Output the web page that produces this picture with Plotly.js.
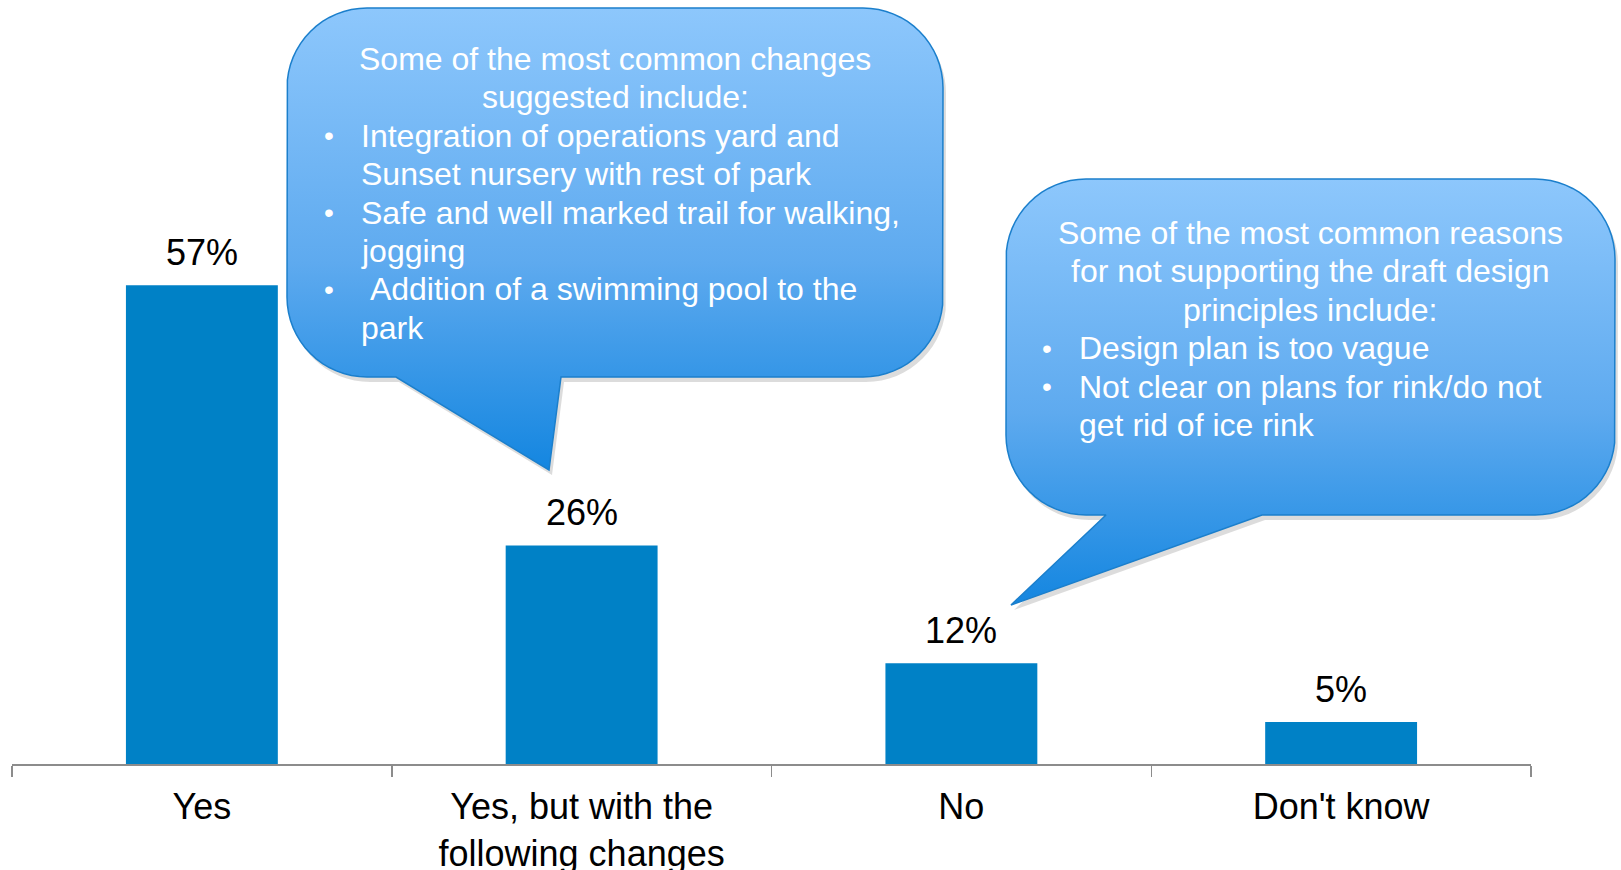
<!DOCTYPE html>
<html>
<head>
<meta charset="utf-8">
<script src="https://cdn.plot.ly/plotly-3.0.1.min.js"></script>
<style>html,body{margin:0;padding:0;background:#fff;}#chart{width:1621px;height:870px;}</style>
</head>
<body>
<div id="chart"></div>
<script>
// ---- data ----
const categories = ['Yes', 'Yes, but with the<br>following changes', 'No', "Don't know"];
const values = [57, 26, 12, 5];
const valueLabels = ['57%', '26%', '12%', '5%'];

const leftCalloutTitle = ['Some of the most common changes', 'suggested include:'];
const leftCalloutBullets = [
  ['Integration of operations yard and', 'Sunset nursery with rest of park'],
  ['Safe and well marked trail for walking,', 'jogging'],
  [' Addition of a swimming pool to the', 'park']
];
const rightCalloutTitle = ['Some of the most common reasons', 'for not supporting the draft design', 'principles include:'];
const rightCalloutBullets = [
  ['Design plan is too vague'],
  ['Not clear on plans for rink/do not', 'get rid of ice rink']
];

// ---- styling / layout helpers ----
const W = 1621, H = 870;
const FONT = 'Liberation Sans, Arial, Helvetica, sans-serif';
const BAR_COLOR = '#0081C6';
const AXIS_GRAY = '#8C8C8C';

function bubblePath(L, T, R, B, r, b1, tipx, tipy, b2) {
  const xs = [], ys = [];
  function arc(cx, cy, a0, a1) {
    const n = 16;
    for (let i = 0; i <= n; i++) {
      const a = a0 + (a1 - a0) * i / n;
      xs.push(cx + r * Math.cos(a));
      ys.push(cy + r * Math.sin(a));
    }
  }
  // screen coords (y down)
  arc(R - r, T + r, -Math.PI / 2, 0);
  arc(R - r, B - r, 0, Math.PI / 2);
  xs.push(b2, tipx, b1); ys.push(B, tipy, B);
  arc(L + r, B - r, Math.PI / 2, Math.PI);
  arc(L + r, T + r, Math.PI, 1.5 * Math.PI);
  xs.push(xs[0]); ys.push(ys[0]);
  return {xs, ys};
}

const bubbles = [
  {L: 287, T: 8, R: 943, B: 377, r: 80, b1: 396, tipx: 549, tipy: 470, b2: 561},
  {L: 1006, T: 179, R: 1615, B: 515, r: 80, b1: 1106, tipx: 1011, tipy: 605, b2: 1262}
];

const traces = [];
traces.push({
  type: 'bar', x: categories, y: values, width: 0.4,
  marker: {color: BAR_COLOR}, xaxis: 'x', yaxis: 'y', hoverinfo: 'skip'
});

bubbles.forEach(b => {
  const p = bubblePath(b.L, b.T, b.R, b.B, b.r, b.b1, b.tipx, b.tipy, b.b2);
  // soft shadow
  traces.push({
    type: 'scatter', mode: 'lines', x: p.xs.map(v => v + 3), y: p.ys.map(v => v + 5),
    fill: 'toself', fillcolor: 'rgba(60,60,60,0.18)', line: {width: 0, color: 'rgba(0,0,0,0)'},
    xaxis: 'x2', yaxis: 'y2', hoverinfo: 'skip'
  });
  traces.push({
    type: 'scatter', mode: 'lines', x: p.xs, y: p.ys,
    fill: 'toself',
    fillgradient: {type: 'vertical', start: b.T, stop: Math.max(b.tipy, b.B),
      colorscale: [[0, '#8DC7FC'], [0.55, '#5EAAEF'], [1, '#1486E0']]},
    line: {width: 1.5, color: '#1B7FCC'},
    xaxis: 'x2', yaxis: 'y2', hoverinfo: 'skip'
  });
});

const annotations = [];
// value labels above bars
categories.forEach((c, i) => {
  annotations.push({
    xref: 'x', yref: 'y', x: c, y: values[i], text: valueLabels[i],
    showarrow: false, yanchor: 'middle', xanchor: 'center', yshift: 33,
    font: {family: FONT, size: 36, color: '#000'}
  });
});

function addCallout(title, bullets, cx, bulletX, textX, yStart, dy) {
  let y = yStart;
  title.forEach(t => {
    annotations.push({xref: 'x2', yref: 'y2', x: cx, y: y, text: t, showarrow: false,
      xanchor: 'center', yanchor: 'middle', font: {family: FONT, size: 32, color: '#fff'}});
    y += dy;
  });
  bullets.forEach(lines => {
    annotations.push({xref: 'x2', yref: 'y2', x: bulletX, y: y, text: '•', showarrow: false,
      xanchor: 'center', yanchor: 'middle', font: {family: FONT, size: 28, color: '#fff'}});
    lines.forEach(t => {
      annotations.push({xref: 'x2', yref: 'y2', x: textX, y: y, text: t.replace(/^ /, '&nbsp;'), showarrow: false,
        xanchor: 'left', yanchor: 'middle', font: {family: FONT, size: 32, color: '#fff'}});
      y += dy;
    });
  });
}
addCallout(leftCalloutTitle, leftCalloutBullets, 615, 329, 359, 59, 38.4);
addCallout(rightCalloutTitle, rightCalloutBullets, 1310, 1047, 1077, 233, 38.4);

const layout = {
  width: W, height: H,
  margin: {l: 0, r: 0, t: 0, b: 0},
  paper_bgcolor: '#fff', plot_bgcolor: 'rgba(0,0,0,0)',
  showlegend: false,
  font: {family: FONT, color: '#000'},
  xaxis: {
    domain: [12 / W, 1531 / W], type: 'category', range: [-0.5, 3.5],
    tickson: 'boundaries', ticks: 'outside', ticklen: 11, tickwidth: 1.5, tickcolor: AXIS_GRAY,
    showline: true, linecolor: AXIS_GRAY, linewidth: 1.5, showgrid: false, zeroline: false,
    ticklabelstandoff: 10,
    tickfont: {family: FONT, size: 36, color: '#000'}, anchor: 'y', fixedrange: true, automargin: false
  },
  yaxis: {
    domain: [106 / H, 862 / H], range: [0, 90], visible: false, showgrid: false,
    zeroline: false, fixedrange: true, anchor: 'x'
  },
  xaxis2: {domain: [0, 1], range: [0, W], visible: false, anchor: 'y2', fixedrange: true},
  yaxis2: {domain: [0, 1], range: [H, 0], visible: false, anchor: 'x2', fixedrange: true},
  annotations: annotations
};

Plotly.newPlot('chart', traces, layout, {displayModeBar: false, staticPlot: true});
</script>
</body>
</html>
